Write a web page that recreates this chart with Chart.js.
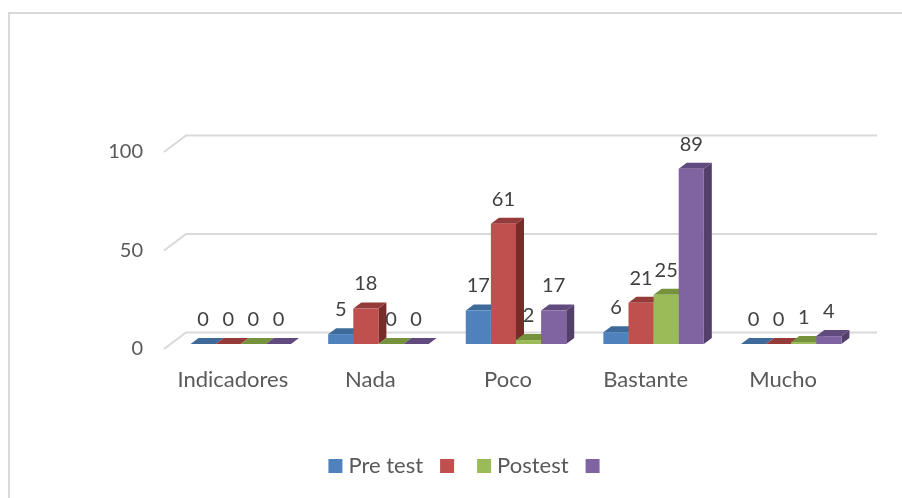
<!DOCTYPE html>
<html><head><meta charset="utf-8">
<style>html,body{margin:0;padding:0;background:#fff;overflow:hidden}
#wrap{position:absolute;left:0;top:0;width:902px;height:498px}
#frame{position:absolute;left:8px;top:12px;width:894px;height:486px;border-top:2px solid #d9d9d9;border-left:2px solid #d9d9d9;box-sizing:border-box;pointer-events:none}
canvas{position:absolute;left:0;top:0}</style>
<script src="https://cdn.jsdelivr.net/npm/chart.js@4"></script>
</head><body>
<div id="wrap"><div id="frame"></div><canvas id="c" width="902" height="498"></canvas></div>
<script>
const categories = ["Indicadores","Nada","Poco","Bastante","Mucho"];
const preTest = [0,5,17,6,0];
const test = [0,18,61,21,0];
const postest = [0,0,2,25,1];
const seguimiento = [0,0,17,89,4];
const seriesLabels = ["Pre test","","Postest",""];
const frontColors = ["#4F81BD","#C0504D","#9BBB59","#8064A2"];
const topColors = ["#3D6A99","#953B39","#76923C","#614A7E"];
const sideColors = ["#325780","#772C2A","#5F7530","#533F69"];
const depthX = 8, depthY = 6;

const depth3d = {
  id:'depth3d',
  beforeDatasetsDraw(chart){
    const {ctx} = chart, y = chart.scales.y, a = chart.chartArea;
    ctx.save();
    ctx.strokeStyle='#d9d9d9'; ctx.lineWidth=2;
    [0,50,100].forEach(v=>{
      const p=y.getPixelForValue(v);
      ctx.beginPath();
      ctx.moveTo(a.left-8,p+5);
      ctx.lineTo(a.left+14,p-11.5);
      ctx.lineTo(a.right+17,p-11.5);
      ctx.stroke();
    });
    ctx.restore();
  },
  beforeDatasetDraw(){ return false; },
  afterDatasetsDraw(chart){
    const {ctx}=chart;
    ctx.save();
    chart.data.datasets.forEach((d,i)=>{
      chart.getDatasetMeta(i).data.forEach(b=>{
        const l=b.x-b.width/2, r=b.x+b.width/2, t=b.y, bot=b.base;
        ctx.fillStyle=sideColors[i];
        ctx.beginPath();ctx.moveTo(r,t);ctx.lineTo(r+depthX,t-depthY);ctx.lineTo(r+depthX,bot-depthY);ctx.lineTo(r,bot);ctx.closePath();ctx.fill();
        ctx.fillStyle=topColors[i];
        ctx.beginPath();ctx.moveTo(l,t);ctx.lineTo(l+depthX,t-depthY);ctx.lineTo(r+depthX,t-depthY);ctx.lineTo(r,t);ctx.closePath();ctx.fill();
        b.draw(ctx);
      });
    });
    ctx.font='20px Lato';ctx.fillStyle='#404040';ctx.textAlign='center';ctx.textBaseline='middle';
    chart.data.datasets.forEach((d,i)=>{
      chart.getDatasetMeta(i).data.forEach((b,j)=>{ctx.fillText(String(d.data[j]),b.x,b.y-24.5);});
    });
    ctx.restore();
  }
};

const seriesValues=[preTest,test,postest,seguimiento];
new Chart(document.getElementById('c'),{
  type:'bar',
  data:{labels:categories,datasets:seriesValues.map((v,i)=>({
    label:seriesLabels[i],data:v,backgroundColor:frontColors[i],borderWidth:0,
    categoryPercentage:0.73,barPercentage:1
  }))},
  plugins:[depth3d],
  options:{
    responsive:false,animation:false,
    layout:{padding:{left:79,right:42,top:147,bottom:11}},
    plugins:{
      legend:{position:'bottom',labels:{usePointStyle:true,pointStyle:'rect',boxWidth:4,boxHeight:14,padding:22,color:'#595959',font:{size:22,family:'Lato'}}},
      tooltip:{enabled:false}
    },
    scales:{
      x:{grid:{display:false},border:{display:false},
        afterFit(s){s.height=89;},
        ticks:{color:'#595959',font:{size:22,family:'Lato'},padding:15,labelOffset:-8,maxRotation:0}},
      y:{min:0,max:100,afterFit(s){s.width=93;},
        grid:{display:false},border:{display:false},
        ticks:{stepSize:50,color:'#595959',font:{size:20,family:'Lato'},padding:21,labelOffset:5}}
    }
  }
});
</script></body></html>
